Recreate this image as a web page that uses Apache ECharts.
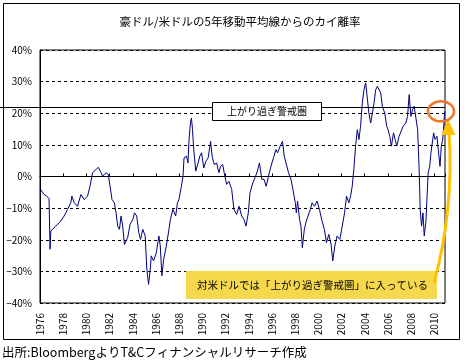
<!DOCTYPE html>
<html><head><meta charset="utf-8">
<script src="https://cdn.jsdelivr.net/npm/echarts/dist/echarts.min.js"></script>
<style>html,body{margin:0;padding:0;background:#fff}#c{width:467px;height:362px}</style>
</head><body><div id="c"></div>
<script>
// decimal year of each reading
const years = [
 1976.00,1976.35,1976.58,1976.78,1976.82,1976.87,1976.93,1977.36,1977.79,1977.93,
 1978.08,1978.23,1978.37,1978.51,1978.66,1978.75,1978.95,1979.23,1979.53,1979.67,
 1979.81,1980.10,1980.31,1980.53,1980.83,1981.03,1981.26,1981.40,1981.69,1981.89,
 1982.04,1982.21,1982.41,1982.56,1982.70,1982.85,1982.99,1983.13,1983.28,1983.56,
 1983.77,1984.00,1984.15,1984.34,1984.52,1984.67,1984.86,1985.07,1985.21,1985.36,
 1985.51,1985.59,1985.79,1986.03,1986.25,1986.37,1986.51,1986.66,1986.89,1987.12,
 1987.24,1987.46,1987.70,1987.85,1987.98,1988.19,1988.33,1988.42,1988.63,1988.76,
 1988.85,1988.97,1989.06,1989.15,1989.20,1989.26,1989.43,1989.63,1989.78,1989.93,
 1990.12,1990.30,1990.50,1990.71,1990.84,1991.02,1991.23,1991.42,1991.57,1991.75,
 1991.88,1992.09,1992.29,1992.53,1992.72,1992.96,1993.16,1993.39,1993.59,1993.76,
 1993.96,1994.11,1994.35,1994.54,1994.74,1994.92,1995.13,1995.32,1995.50,1995.70,
 1995.91,1996.13,1996.34,1996.48,1996.71,1996.91,1997.06,1997.23,1997.43,1997.64,
 1997.81,1998.01,1998.10,1998.21,1998.38,1998.50,1998.62,1998.79,1998.96,1999.10,
 1999.31,1999.46,1999.66,1999.89,2000.09,2000.32,2000.52,2000.70,2000.90,2001.10,
 2001.24,2001.42,2001.62,2001.85,2002.06,2002.26,2002.43,2002.63,2002.78,2002.92,
 2003.06,2003.21,2003.36,2003.50,2003.64,2003.79,2003.93,2004.08,2004.22,2004.36,
 2004.51,2004.66,2004.80,2004.94,2005.09,2005.23,2005.38,2005.52,2005.72,2005.90,
 2006.01,2006.16,2006.30,2006.48,2006.62,2006.76,2006.96,2007.11,2007.31,2007.54,
 2007.69,2007.83,2007.98,2008.12,2008.26,2008.41,2008.56,2008.70,2008.78,2008.90,
 2009.02,2009.13,2009.28,2009.36,2009.47,2009.60,2009.71,2009.86,2009.94,2010.06,
 2010.23,2010.34,2010.49,2010.60,2010.72,2010.81,2010.86,2010.92
];
// deviation from 5-year moving average (%)
const deviation = [
 -3.8,-5.7,-6.2,-7.0,-7.5,-23.0,-17.2,-15.7,-14.1,-13.6,
 -12.5,-11.5,-10.4,-9.4,-8.2,-6.2,-8.3,-9.4,-5.7,-5.5,
 -7.3,-6.2,-3.1,1.2,2.2,2.9,1.2,0.1,1.2,0.6,
 -3.1,-7.3,-8.3,-11.5,-15.7,-16.7,-12.5,-15.7,-21.5,-19.3,
 -15.1,-13.6,-11.5,-12.5,-17.8,-19.9,-16.7,-18.8,-29.3,-34.1,
 -29.3,-25.1,-26.7,-24.1,-18.8,-22.0,-31.4,-26.2,-22.0,-16.7,
 -13.6,-10.4,-12.5,-8.3,-7.3,-3.1,0.1,5.9,6.4,4.3,
 11.7,16.9,18.5,14.8,11.7,8.5,1.7,4.3,6.4,7.5,
 2.7,4.8,5.9,11.1,6.4,3.8,4.3,1.2,3.2,3.8,
 1.2,-2.5,-1.5,-4.1,-10.4,-12.0,-9.4,-12.5,-13.6,-15.7,
 -11.5,-5.1,-2.0,-0.4,1.7,4.3,-0.9,-0.9,-3.1,0.1,
 3.2,5.9,8.5,7.5,9.6,11.1,6.4,5.9,1.2,-0.9,
 -4.1,-8.3,-11.5,-7.8,-13.6,-15.7,-22.5,-16.7,-14.1,-13.6,
 -10.4,-8.3,-9.4,-7.8,-10.4,-14.1,-16.7,-20.9,-18.3,-21.5,
 -26.7,-22.0,-18.8,-19.9,-15.7,-11.5,-6.2,-8.3,-6.2,-3.1,
 2.2,9.6,14.8,11.7,15.9,23.2,27.4,29.6,30.1,20.1,
 16.9,20.1,23.2,27.4,28.5,29.0,26.4,22.2,20.1,15.9,
 14.8,12.7,9.6,13.8,11.7,9.6,12.7,12.7,15.9,16.9,
 19.0,25.9,19.0,21.1,22.2,21.7,14.8,1.2,-10.4,-15.7,
 -11.5,-18.8,-14.1,-7.3,1.2,3.2,7.5,11.7,13.8,11.7,
 12.7,8.5,3.2,9.6,11.7,15.9,19.0,20.6
];
const xMin = 1976, xMax = 2010.92, xStep = 2;
const yMin = -40, yMax = 40, yStep = 10;
const warnLevel = 22;
const titleText = '豪ドル/米ドルの5年移動平均線からのカイ離率';
const sourceText = '出所:BloombergよりT&Cフィナンシャルリサーチ作成';
const warnLabel = '上がり過ぎ警戒圏';
const calloutText = '対米ドルでは「上がり過ぎ警戒圏」に入っている';

const FONT = '"Noto Sans CJK JP", "Noto Sans", sans-serif';
const chart = echarts.init(document.getElementById('c'), null, {renderer: 'canvas'});
const yearLabel = v => {
  const r = Math.round(v);
  return (Math.abs(v - r) < 1e-6 && r % 2 === 0) ? String(r) : '';
};
chart.setOption({
  animation: false,
  backgroundColor: '#fff',
  grid: {left: 40, right: 22, top: 50, bottom: 59, show: true, borderColor: '#000', borderWidth: 1, backgroundColor: 'transparent', containLabel: false, outerBoundsMode: 'none'},
  xAxis: [{
    type: 'value', min: xMin, max: xMax, interval: xStep,
    axisLine: {show: false, onZero: false}, axisTick: {show: false},
    splitLine: {show: false},
    axisLabel: {rotate: 90, margin: 10, fontSize: 10, color: '#000', fontFamily: FONT, formatter: yearLabel, showMaxLabel: false}
  }, {
    type: 'value', min: xMin, max: xMax, interval: xStep, position: 'bottom',
    axisLine: {show: true, onZero: true, lineStyle: {color: '#000', width: 1}},
    axisTick: {show: true, inside: true, length: 3, lineStyle: {color: '#000', width: 1}},
    axisLabel: {show: false}, splitLine: {show: false}
  }],
  yAxis: {
    type: 'value', min: yMin, max: yMax, interval: yStep,
    axisLine: {show: true, lineStyle: {color: '#000', width: 1}}, axisTick: {show: false},
    axisLabel: {fontSize: 10, color: '#000', fontFamily: FONT, margin: 8,
      formatter: v => (v < 0 ? '−' + (-v) : v) + '%'},
    splitLine: {show: true, lineStyle: {color: '#000', width: 1, type: [3, 3]}}
  },
  series: [{
    type: 'line', xAxisIndex: 0, yAxisIndex: 0, showSymbol: false, symbol: 'none',
    lineStyle: {color: '#000080', width: 1}, data: years.map((y, i) => [y, deviation[i]]), z: 3
  }]
});

const y22 = chart.convertToPixel({yAxisIndex: 0}, warnLevel);
const xRight = chart.convertToPixel({xAxisIndex: 0}, xMax);
const lastPt = chart.convertToPixel({seriesIndex: 0}, [years[years.length - 1], deviation[deviation.length - 1]]);
chart.setOption({
  graphic: [
    {type: 'rect', shape: {x: 3.5, y: 3.5, width: 456, height: 336}, style: {fill: 'none', stroke: '#000', lineWidth: 1}, z: 1},
    {type: 'text', style: {text: titleText, x: 240, y: 22, textAlign: 'center', textVerticalAlign: 'middle', font: '11.5px ' + FONT, fill: '#000'}},
    {type: 'text', style: {text: sourceText, x: 2, y: 352, textAlign: 'left', textVerticalAlign: 'middle', font: '12.5px ' + FONT, fill: '#000'}},
    {type: 'line', shape: {x1: 0, y1: Math.round(y22) + 0.5, x2: xRight, y2: Math.round(y22) + 0.5}, style: {stroke: '#000', lineWidth: 1}, z: 10},
    {type: 'rect', shape: {x: 212.5, y: 102.5, width: 109, height: 18}, style: {fill: '#fff', stroke: '#000', lineWidth: 1}, z: 11},
    {type: 'text', style: {text: warnLabel, x: 267, y: 111.5, textAlign: 'center', textVerticalAlign: 'middle', font: '10px ' + FONT, fill: '#000'}, z: 12},
    {type: 'rect', shape: {x: 186, y: 271, width: 251, height: 28}, style: {fill: '#F6D84C'}, z: 11},
    {type: 'text', style: {text: calloutText, x: 197, y: 285, textAlign: 'left', textVerticalAlign: 'middle', font: '10.5px ' + FONT, fill: '#000'}, z: 12},
    {type: 'bezierCurve', shape: {x1: 434, y1: 283, cpx1: 446, cpy1: 240, cpx2: 453, cpy2: 185, x2: 449, y2: 133}, style: {stroke: '#FFC000', lineWidth: 3, fill: 'none'}, z: 13},
    {type: 'polygon', shape: {points: [[448, 119], [441.5, 135], [455.5, 135]]}, style: {fill: '#FFC000'}, z: 13},
    {type: 'ellipse', shape: {cx: lastPt[0] - 4, cy: lastPt[1], rx: 13, ry: 10}, style: {fill: 'none', stroke: '#F07828', lineWidth: 2.5}, z: 14}
  ]
});
</script></body></html>
